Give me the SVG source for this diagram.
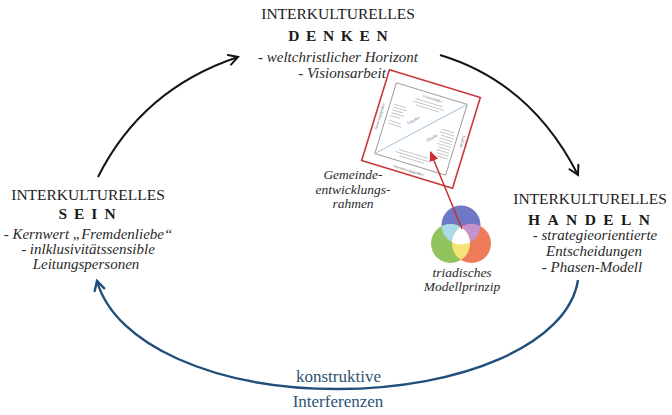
<svg xmlns="http://www.w3.org/2000/svg" width="672" height="415" viewBox="0 0 672 415">
<style>
text{text-anchor:middle}
.cap{font-size:15.5px;fill:#1b1b1b}
.big{font-size:15.5px;font-weight:bold;fill:#1b1b1b}
.it{font-size:15px;font-style:italic;fill:#2a2a2a}
.lab{font-size:13.5px;font-style:italic;fill:#2a2a2a}
.blue{font-size:17px;fill:#2c5375}
.tiny{font-size:3.8px;fill:#666}
.tinyb{font-size:4px;font-style:italic;fill:#4f6c99}
.tl{stroke:#b4b4b4;stroke-width:0.7;fill:none}
.blk{fill:none;stroke:#141414;stroke-width:2}
.bl{fill:none;stroke:#1f4f7a;stroke-width:2.4}
</style>
<defs>
<marker id="hb" viewBox="-2 -2 14 14" markerWidth="14" markerHeight="14" refX="9" refY="5" orient="auto" markerUnits="userSpaceOnUse">
<path d="M0,0 L9,5 L0,10" fill="none" stroke="#141414" stroke-width="2" stroke-linecap="round"/>
</marker>
<marker id="hu" viewBox="-2 -2 14 14" markerWidth="14" markerHeight="14" refX="9" refY="5" orient="auto" markerUnits="userSpaceOnUse">
<path d="M0,0 L9,5 L0,10" fill="none" stroke="#1f4f7a" stroke-width="2.4" stroke-linecap="round"/>
</marker>
<marker id="hr" viewBox="0 0 10 10" markerWidth="10" markerHeight="10" refX="9" refY="5" orient="auto" markerUnits="userSpaceOnUse">
<path d="M0,0.5 L10,5 L0,9.5 Z" fill="#c8312f"/>
</marker>
<clipPath id="cB"><circle cx="461" cy="225" r="19.5"/></clipPath>
<clipPath id="cG"><circle cx="450.5" cy="243.5" r="19.5"/></clipPath>
<clipPath id="cR"><circle cx="471.5" cy="243.5" r="19.5"/></clipPath>
</defs>
<rect width="672" height="415" fill="#ffffff"/>

<g id="connectors">
<path class="blk" d="M98,177 Q142,89 238,57" marker-end="url(#hb)"/>
<path class="blk" d="M440,55 Q531,82.4 578,175" marker-end="url(#hb)"/>
<path class="bl" d="M578,280 C568,345 460,389 338,389 C215,389 115,345 97,281" marker-end="url(#hu)"/>
</g>

<g font-family="'Liberation Serif', 'DejaVu Serif', serif">
<g id="denken">
<text class="cap" x="338" y="19">INTERKULTURELLES</text>
<text class="big" x="341.3" y="41" letter-spacing="6.6">DENKEN</text>
<text class="it" x="338" y="62">- weltchristlicher Horizont</text>
<text class="it" x="342" y="77.5">- Visionsarbeit</text>
</g>

<g id="sein">
<text class="cap" x="88" y="200">INTERKULTURELLES</text>
<text class="big" x="90.5" y="218.5" letter-spacing="7">SEIN</text>
<text class="it" x="88" y="238.5">- Kernwert „Fremdenliebe“</text>
<text class="it" x="88" y="253.5">- inlklusivitätssensible</text>
<text class="it" x="86" y="268.5">Leitungspersonen</text>
</g>

<g id="handeln">
<text class="cap" x="590" y="203.5">INTERKULTURELLES</text>
<text class="big" x="592.7" y="224.5" letter-spacing="7.4">HANDELN</text>
<text class="it" x="595" y="240">- strategieorientierte</text>
<text class="it" x="594" y="255.5">Entscheidungen</text>
<text class="it" x="592" y="271.5">- Phasen-Modell</text>
</g>

<g id="rahmen">
<g transform="translate(421,129) rotate(17)">
<rect x="-47.5" y="-47.5" width="95" height="95" fill="#ffffff" stroke="#c9383a" stroke-width="1.6"/>
<rect x="-37" y="-37" width="74" height="74" fill="none" stroke="#8c8c8c" stroke-width="0.8"/>
<path d="M-37,37 L37,-37" stroke="#9cc0e0" stroke-width="0.9"/>
<text class="tiny" x="2" y="-31">Visionsfelder</text>
<path class="tl" d="M-14,-27.5h28M-16,-24.5h32M-12,-21.5h24"/>
<text class="tiny" transform="translate(-42,0) rotate(-90)">Steuerungsgrößen</text>
<text class="tiny" transform="translate(42,0) rotate(90)">Leitbild</text>
<text class="tiny" x="0" y="44.5">Orientierungsgrößen</text>
<path class="tl" d="M-33,-16h12M-33,-13h14M-33,-10h11M-33,-7h13M-33,-4h10M-33,1h12M-33,4h14"/>
<path class="tl" d="M20,-6h13M19,-3h15M21,0h13M20,3h14M21,6h13M20,9h14M22,12h12M21,15h13M22,18h12M23,21h11"/>
<path class="tl" d="M-15,26h30M-18,29h36M-13,32h26"/>
<text class="tinyb" transform="translate(-9,-5) rotate(-45)">Subjekte</text>
<text class="tinyb" transform="translate(14,6) rotate(-45)">Objekte</text>
</g>
<text class="lab" x="353" y="179">Gemeinde-</text>
<text class="lab" x="353" y="193.5">entwicklungs-</text>
<text class="lab" x="353" y="208">rahmen</text>
</g>

<g id="triade">
<circle cx="461" cy="225" r="19.5" fill="#6e78c4"/>
<circle cx="450.5" cy="243.5" r="19.5" fill="#92c45d"/>
<circle cx="471.5" cy="243.5" r="19.5" fill="#ee7c5b"/>
<circle cx="450.5" cy="243.5" r="19.5" fill="#a9dce8" clip-path="url(#cB)"/>
<circle cx="471.5" cy="243.5" r="19.5" fill="#c493cc" clip-path="url(#cB)"/>
<circle cx="471.5" cy="243.5" r="19.5" fill="#f3e677" clip-path="url(#cG)"/>
<g clip-path="url(#cB)"><circle cx="471.5" cy="243.5" r="19.5" fill="#ffffff" clip-path="url(#cG)"/></g>
<path d="M462,229 L430.5,152" stroke="#c8312f" stroke-width="1.5" fill="none" marker-end="url(#hr)"/>
<text class="lab" x="462" y="276.5">triadisches</text>
<text class="lab" x="462" y="290.5">Modellprinzip</text>
</g>

<g id="interferenzen">
<text class="blue" x="338.5" y="382">konstruktive</text>
<text class="blue" x="338" y="407">Interferenzen</text>
</g>
</g>
</svg>
